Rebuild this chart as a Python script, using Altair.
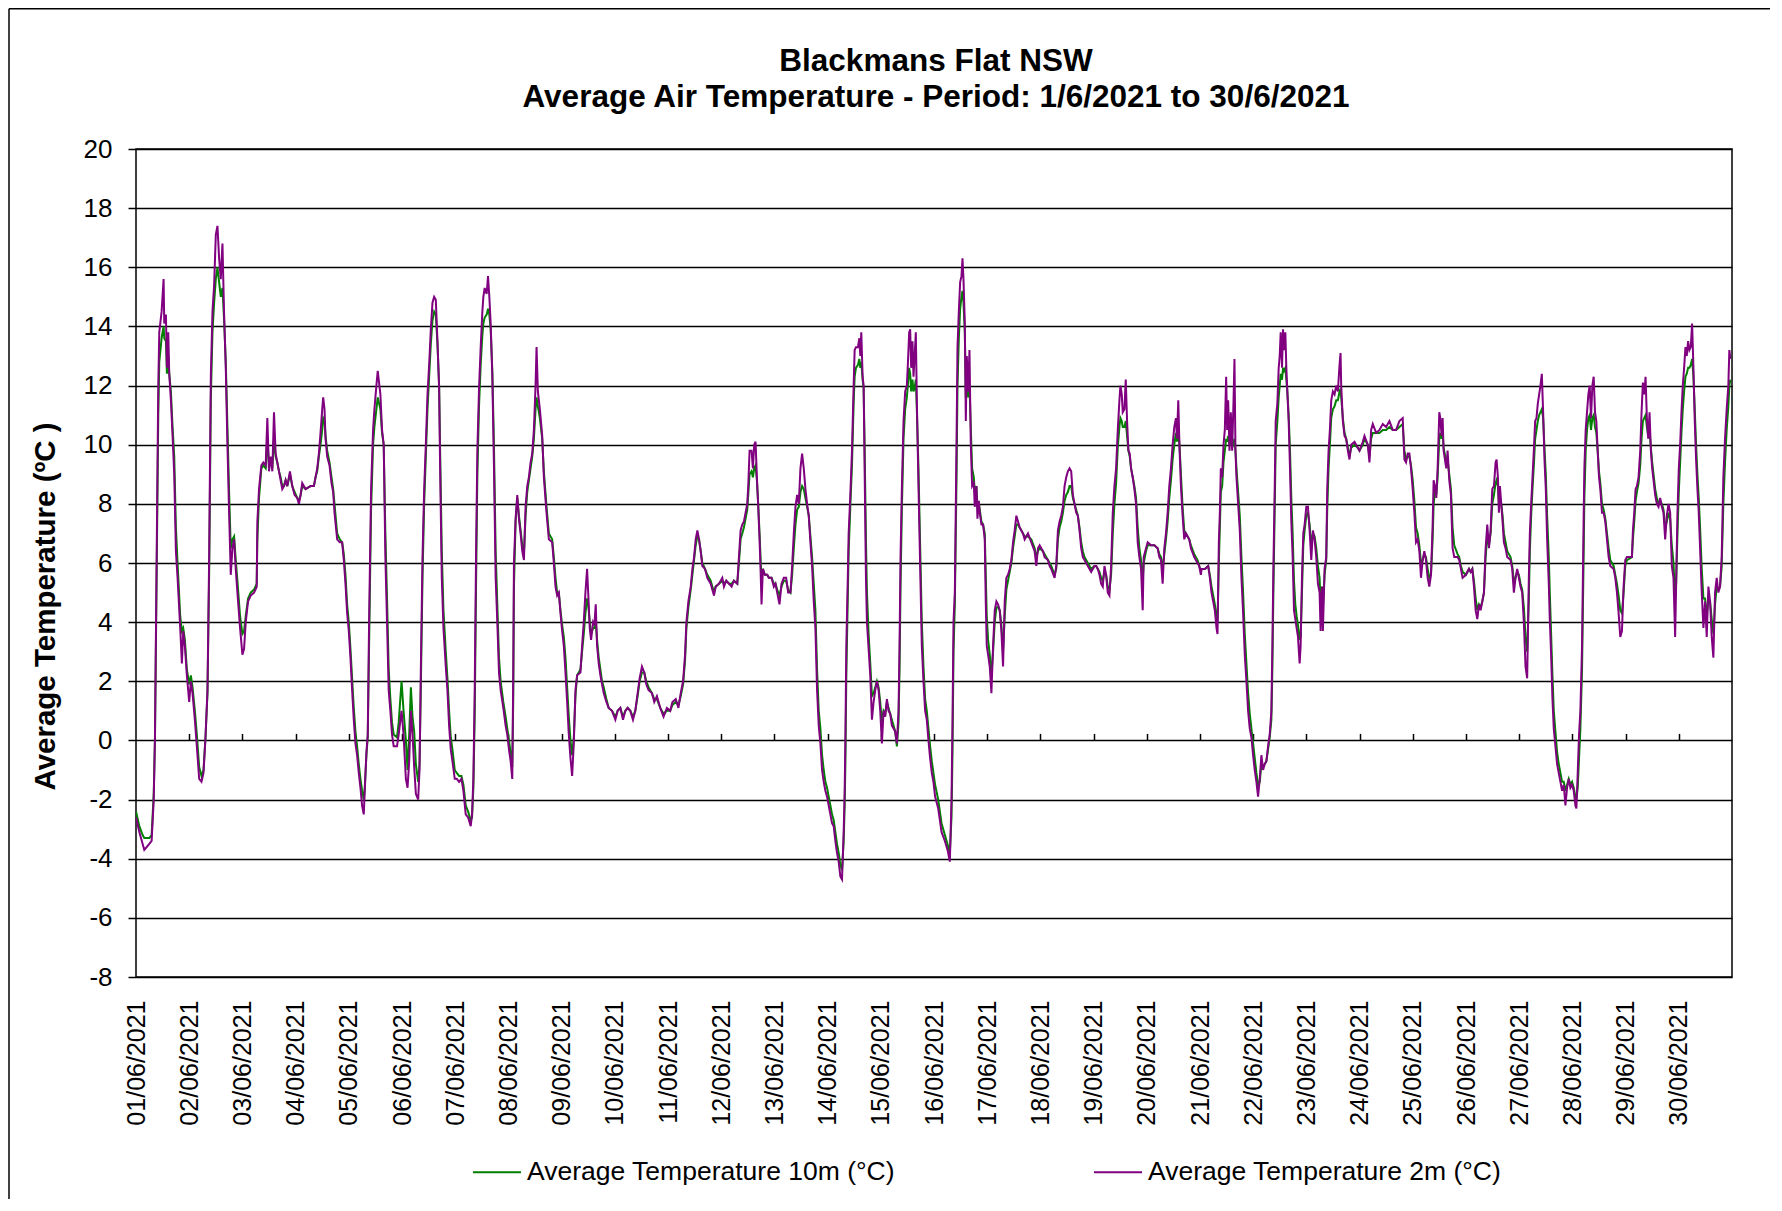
import altair as alt
import pandas as pd

FONT = "Arial, Liberation Sans, sans-serif"

TITLE_LINES = ["Blackmans Flat NSW",
               "Average Air  Temperature - Period: 1/6/2021 to 30/6/2021"]
Y_TITLE = "Average Temperature (ºC )"
SERIES = ["Average Temperature 10m (°C)", "Average Temperature 2m (°C)"]
COLORS = ["#008000", "#800080"]
Y_TICKS = [-8, -6, -4, -2, 0, 2, 4, 6, 8, 10, 12, 14, 16, 18, 20]
DAY_LABELS = ["01/06/2021", "02/06/2021", "03/06/2021", "04/06/2021", "05/06/2021",
              "06/06/2021", "07/06/2021", "08/06/2021", "09/06/2021", "10/06/2021",
              "11/06/2021", "12/06/2021", "13/06/2021", "14/06/2021", "15/06/2021",
              "16/06/2021", "17/06/2021", "18/06/2021", "19/06/2021", "20/06/2021",
              "21/06/2021", "22/06/2021", "23/06/2021", "24/06/2021", "25/06/2021",
              "26/06/2021", "27/06/2021", "28/06/2021", "29/06/2021", "30/06/2021"]

# rows: (hours since 01/06/2021 00:00, temperature 2 m, temperature 10 m)
JUN01_05 = [
    (0.0, -2.6, -2.4), (1.5, -3.1, -2.9), (3.0, -3.5, -3.2), (3.75, -3.7, -3.3), (6.0, -3.5, -3.3),
    (7.05, -3.4, -3.2), (8.0, -2.0, -1.8), (8.55, 0.1, 0.0), (10.05, 12.0, 11.0), (10.5, 13.8, 12.8),
    (11.55, 14.5, 13.6), (12.45, 15.6, 14.0), (12.75, 14.1, 13.6), (13.5, 14.4, 13.5), (13.95, 12.6, 12.4),
    (14.55, 13.8, 13.0), (15.0, 12.4, 12.4), (15.75, 11.5, 11.8), (16.5, 10.3, 10.6), (17.25, 9.0, 9.6),
    (18.0, 6.4, 7.2), (18.75, 5.5, 6.0), (19.95, 3.8, 4.2), (20.7, 2.6, 3.7), (21.3, 3.7, 3.8),
    (22.05, 3.2, 3.4), (22.95, 2.2, 2.4), (24.0, 1.3, 1.9), (24.75, 2.0, 2.2), (25.5, 1.6, 1.8),
    (26.55, 0.7, 1.0), (27.45, -0.2, 0.2), (28.5, -1.3, -0.9), (29.55, -1.4, -1.2), (30.45, -1.1, -1.0),
    (31.35, 0.1, 0.1), (32.25, 1.7, 1.6), (33.0, 6.2, 5.6), (33.75, 12.3, 11.5), (34.5, 14.5, 13.8),
    (35.25, 15.4, 14.8), (36.0, 17.1, 15.6), (36.75, 17.4, 16.0), (37.5, 16.3, 15.5), (38.25, 15.6, 15.0),
    (39.0, 16.8, 15.3), (39.75, 14.4, 14.2), (40.5, 12.6, 12.8), (41.25, 10.0, 10.6), (42.0, 7.7, 8.4),
    (42.75, 5.6, 6.5), (43.5, 6.5, 6.8), (44.25, 6.8, 6.9), (45.0, 5.8, 6.1), (45.75, 5.0, 5.4),
    (46.95, 3.8, 4.2), (48.0, 2.9, 3.6), (48.75, 3.1, 3.7), (49.5, 4.0, 4.2), (50.55, 4.7, 4.8),
    (51.75, 4.9, 5.0), (53.25, 5.0, 5.1), (54.45, 5.2, 5.3), (54.75, 7.4, 6.8), (55.5, 8.5, 8.2),
    (56.55, 9.3, 9.2), (57.45, 9.4, 9.3), (58.5, 9.3, 9.2), (59.25, 10.9, 10.2), (60.0, 9.1, 9.3),
    (60.75, 9.6, 9.5), (61.5, 9.1, 9.2), (62.25, 11.1, 10.2), (63.0, 9.7, 9.6), (63.75, 9.4, 9.4),
    (64.5, 9.1, 9.1), (65.25, 8.8, 8.9), (66.0, 8.5, 8.6), (66.75, 8.6, 8.6), (67.5, 8.8, 8.8),
    (68.25, 8.6, 8.6), (69.45, 9.1, 9.0), (70.5, 8.6, 8.6), (71.55, 8.3, 8.4), (72.75, 8.2, 8.2),
    (73.5, 8.0, 8.1), (74.25, 8.3, 8.3), (75.0, 8.7, 8.6), (76.5, 8.5, 8.5), (78.75, 8.6, 8.6),
    (80.25, 8.6, 8.6), (81.0, 8.9, 8.9), (81.75, 9.2, 9.1), (82.5, 9.7, 9.6), (83.25, 10.4, 10.0),
    (84.0, 11.2, 10.5), (84.45, 11.6, 10.9), (85.05, 11.2, 10.8), (85.5, 10.2, 10.3), (86.25, 9.6, 9.8),
    (87.3, 9.3, 9.4), (88.2, 8.7, 8.9), (88.95, 8.4, 8.5), (89.55, 7.7, 8.0), (90.75, 6.8, 7.0),
    (91.95, 6.7, 6.8), (93.0, 6.7, 6.7), (93.75, 6.1, 6.3), (94.5, 5.3, 5.6), (95.25, 4.3, 4.6),
    (96.0, 3.7, 4.0), (96.75, 2.8, 3.1), (97.5, 1.7, 2.1), (98.25, 0.7, 1.1), (99.0, -0.1, 0.3),
    (99.75, -0.5, -0.2), (100.5, -1.1, -0.8), (101.25, -1.6, -1.3), (102.0, -2.2, -1.7), (102.75, -2.5, -2.0),
    (103.2, -1.7, -1.6), (103.95, -0.4, -0.5), (104.55, 0.2, 0.1), (105.15, 4.0, 3.2), (106.05, 8.5, 7.8),
    (106.95, 10.5, 10.0), (107.55, 11.2, 10.6), (108.45, 12.0, 11.2), (109.05, 12.5, 11.6), (109.65, 12.1, 11.4),
    (110.25, 11.7, 11.2), (111.0, 10.5, 10.4), (111.75, 10.0, 10.0), (112.5, 6.2, 7.0), (113.25, 4.0, 4.8),
    (114.0, 1.7, 2.4), (114.75, 1.0, 1.4), (115.5, 0.2, 0.6), (116.25, -0.2, 0.2), (117.75, -0.2, 0.1),
    (118.5, 0.2, 0.6),
]

JUN06_10 = [
    (119.8, 1.0, 2.0), (120.7, 0.2, 1.0), (121.75, -1.3, 0.0), (122.5, -1.6, -1.0), (123.25, -0.7, 0.2),
    (124.0, 1.0, 1.8), (124.75, 0.2, 0.8), (125.5, -0.9, 0.3), (126.25, -1.8, -0.8), (127.3, -2.0, -1.4),
    (127.9, -1.0, -0.8), (128.5, 2.4, 1.8), (129.25, 6.2, 5.5), (130.0, 8.5, 8.0), (130.75, 10.0, 9.6),
    (131.5, 11.7, 11.2), (132.25, 12.7, 12.3), (133.0, 13.9, 13.4), (133.75, 14.8, 14.2), (134.5, 15.0, 14.5),
    (135.25, 14.9, 14.4), (136.0, 13.5, 13.4), (136.75, 11.9, 12.0), (137.2, 9.2, 9.8), (137.95, 5.5, 6.4),
    (138.7, 3.8, 4.4), (139.75, 2.5, 3.0), (140.5, 1.7, 2.1), (141.25, 0.5, 1.0), (142.0, -0.3, 0.1),
    (142.75, -0.7, -0.3), (143.8, -1.3, -1.0), (144.7, -1.3, -1.1), (145.75, -1.4, -1.2), (146.8, -1.3, -1.2),
    (147.7, -1.7, -1.5), (148.75, -2.5, -2.2), (149.8, -2.6, -2.4), (151.0, -2.9, -2.7), (151.6, -2.5, -2.6),
    (152.2, -1.3, -1.6), (152.8, 1.7, 0.8), (153.4, 6.2, 5.2), (154.0, 9.8, 9.0), (154.75, 11.9, 11.3),
    (155.5, 13.3, 12.7), (156.25, 14.5, 13.7), (156.7, 15.0, 14.1), (157.3, 15.3, 14.3), (158.2, 15.1, 14.4),
    (158.8, 15.7, 14.6), (159.4, 15.0, 14.4), (160.0, 14.1, 13.9), (160.75, 12.3, 12.5), (161.5, 9.2, 9.9),
    (162.25, 5.5, 6.4), (163.0, 4.0, 4.6), (163.75, 2.3, 2.8), (164.5, 1.7, 2.0), (165.7, 1.1, 1.3),
    (166.75, 0.5, 0.8), (167.5, 0.2, 0.4), (168.25, -0.3, 0.0), (169.0, -0.7, -0.4), (169.75, -1.3, -0.9),
    (170.2, 2.4, 1.5), (170.5, 6.0, 5.2), (171.25, 7.5, 7.4), (172.0, 8.3, 8.2), (172.75, 7.5, 7.6),
    (173.5, 7.0, 7.1), (174.25, 6.4, 6.6), (175.0, 6.1, 6.3), (175.75, 7.9, 7.6), (176.5, 8.6, 8.4),
    (177.25, 8.9, 8.8), (178.0, 9.4, 9.2), (178.75, 9.7, 9.6), (179.5, 10.5, 10.2), (180.25, 12.0, 11.2),
    (180.7, 13.3, 11.6), (181.3, 11.8, 11.3), (182.2, 11.2, 10.9), (183.25, 10.3, 10.2), (184.0, 8.9, 9.1),
    (185.2, 7.7, 7.9), (186.25, 6.8, 7.0), (187.75, 6.7, 6.8), (188.5, 6.0, 6.2), (189.25, 5.2, 5.5),
    (190.0, 4.9, 5.0), (190.75, 5.0, 5.0), (191.5, 4.3, 4.4), (192.25, 3.7, 3.9), (193.0, 3.2, 3.5),
    (193.75, 2.3, 2.8), (194.5, 1.3, 1.8), (195.25, 0.2, 0.8), (196.0, -0.6, 0.0), (196.75, -1.2, -0.5),
    (197.5, -0.1, 0.1), (198.25, 1.7, 1.5), (199.0, 2.2, 2.2), (200.5, 2.3, 2.4), (201.25, 3.2, 3.0),
    (202.0, 4.0, 3.6), (202.75, 5.0, 4.3), (203.5, 5.8, 4.8), (204.0, 5.0, 4.6), (204.7, 3.8, 4.0),
    (205.3, 3.4, 3.6), (206.2, 4.0, 3.8), (206.8, 3.9, 3.8), (207.4, 4.6, 4.0), (208.0, 3.2, 3.4),
    (208.75, 2.6, 2.8), (209.5, 2.2, 2.4), (210.25, 1.9, 2.0), (211.0, 1.6, 1.8), (212.2, 1.3, 1.4),
    (213.25, 1.1, 1.1), (214.75, 1.0, 1.0), (216.25, 0.7, 0.8), (217.3, 1.0, 1.0), (218.5, 1.1, 1.1),
    (219.7, 0.7, 0.8), (220.75, 1.0, 1.0), (221.8, 1.1, 1.1), (223.0, 1.0, 1.0), (224.2, 0.7, 0.8),
    (225.25, 1.0, 1.0), (226.3, 1.6, 1.5), (227.2, 2.1, 2.0), (228.25, 2.5, 2.3), (229.3, 2.3, 2.3),
    (230.2, 1.9, 2.0), (231.25, 1.7, 1.8), (232.75, 1.6, 1.6), (233.8, 1.3, 1.4), (235.0, 1.5, 1.4),
    (236.5, 1.1, 1.1), (238.0, 0.8, 0.9), (239.5, 1.1, 1.0), (241.0, 1.0, 1.0),
]

JUN11_15 = [
    (242.0, 1.3, 1.2), (243.5, 1.4, 1.3), (244.7, 1.1, 1.2), (245.75, 1.6, 1.5), (246.8, 2.0, 1.9),
    (247.7, 2.9, 2.7), (248.3, 4.0, 3.8), (249.2, 4.7, 4.5), (250.25, 5.2, 5.1), (251.0, 5.8, 5.6),
    (251.75, 6.2, 6.1), (252.5, 6.8, 6.6), (253.25, 7.1, 6.9), (254.0, 6.8, 6.8), (254.75, 6.4, 6.4),
    (255.5, 5.9, 6.0), (256.7, 5.8, 5.8), (257.75, 5.5, 5.6), (259.25, 5.3, 5.4), (260.75, 4.9, 5.0),
    (261.5, 5.2, 5.2), (263.0, 5.3, 5.3), (264.5, 5.5, 5.4), (265.25, 5.2, 5.3), (266.3, 5.4, 5.4),
    (267.5, 5.3, 5.3), (268.7, 5.2, 5.3), (269.75, 5.4, 5.4), (271.25, 5.3, 5.3), (272.0, 6.2, 6.0),
    (272.75, 7.1, 6.8), (273.5, 7.3, 7.0), (274.25, 7.4, 7.2), (275.0, 7.7, 7.5), (275.75, 8.0, 7.8),
    (276.2, 8.6, 8.3), (276.8, 9.8, 9.0), (277.7, 9.8, 9.1), (278.3, 9.2, 8.9), (278.9, 10.0, 9.2),
    (279.5, 10.1, 9.3), (280.1, 8.9, 8.8), (280.7, 7.9, 8.0), (281.3, 6.8, 7.0), (281.75, 5.8, 6.2),
    (282.2, 4.6, 5.4), (282.8, 5.8, 5.8), (283.7, 5.6, 5.6), (284.75, 5.6, 5.6), (285.5, 5.5, 5.5),
    (286.7, 5.5, 5.5), (287.75, 5.2, 5.3), (288.5, 5.3, 5.3), (289.25, 5.0, 5.1), (290.3, 4.6, 4.9),
    (291.2, 5.3, 5.2), (292.25, 5.5, 5.4), (293.3, 5.5, 5.4), (294.2, 5.0, 5.1), (295.25, 5.0, 5.0),
    (296.0, 5.9, 5.6), (296.75, 7.0, 6.5), (297.5, 7.9, 7.3), (298.25, 8.3, 7.8), (299.0, 8.0, 7.9),
    (299.75, 9.2, 8.4), (300.5, 9.7, 8.6), (301.25, 9.2, 8.5), (302.0, 8.5, 8.2), (302.75, 8.0, 7.9),
    (303.5, 7.6, 7.6), (304.25, 6.7, 6.9), (305.0, 5.9, 6.2), (305.75, 4.7, 5.3), (306.5, 3.8, 4.4),
    (307.25, 1.7, 2.4), (308.0, 0.5, 1.0), (308.75, -0.1, 0.4), (309.5, -1.0, -0.5), (310.25, -1.4, -1.0),
    (311.0, -1.7, -1.4), (311.75, -1.9, -1.6), (312.5, -2.2, -1.9), (313.25, -2.5, -2.2), (314.0, -2.8, -2.5),
    (314.75, -2.9, -2.7), (315.5, -3.4, -3.1), (316.25, -3.8, -3.5), (317.0, -4.1, -3.8), (317.75, -4.6, -4.2),
    (318.5, -4.7, -4.4), (319.25, -3.1, -3.4), (319.7, -1.7, -2.2), (320.0, -0.1, -0.9), (320.45, 3.2, 2.2),
    (321.05, 5.3, 4.6), (321.5, 7.0, 6.4), (322.25, 8.3, 7.9), (323.0, 9.8, 9.3), (323.75, 12.0, 11.4),
    (324.2, 13.2, 12.3), (324.8, 13.3, 12.6), (325.7, 13.3, 12.7), (326.3, 13.6, 12.9), (326.75, 13.0, 12.6),
    (327.2, 13.8, 12.8), (327.8, 12.3, 12.2), (328.25, 12.0, 11.9), (328.7, 9.2, 10.0), (329.3, 5.5, 6.8),
    (329.75, 4.0, 5.0), (330.5, 3.1, 3.6), (331.25, 2.2, 2.6), (332.0, 0.7, 1.5), (332.75, 1.3, 1.6),
    (333.5, 1.7, 1.8), (334.25, 2.0, 2.0), (335.0, 1.7, 1.8), (335.75, 1.0, 1.3), (336.5, -0.1, 0.6),
    (337.25, 1.0, 1.0), (338.0, 0.8, 0.9), (338.75, 1.4, 1.3), (339.5, 1.0, 1.1), (340.25, 0.9, 0.9),
    (341.0, 0.5, 0.7), (341.75, 0.4, 0.5), (342.5, 0.3, 0.3), (343.25, -0.1, -0.2), (344.0, 1.0, 0.6),
    (344.45, 3.2, 2.4), (344.9, 6.2, 5.2), (345.5, 8.5, 7.8), (346.25, 10.8, 10.2), (347.0, 11.8, 11.2),
    (347.75, 12.0, 11.6), (348.2, 12.7, 12.0), (348.8, 13.8, 12.6), (349.25, 13.9, 12.4), (349.7, 12.6, 11.8),
    (350.3, 13.5, 12.2), (350.75, 12.3, 11.8), (351.2, 12.9, 11.9), (351.8, 13.8, 12.2), (352.25, 11.5, 11.2),
    (353.0, 8.6, 9.2), (353.75, 5.9, 6.6), (354.5, 3.2, 4.0), (355.25, 2.0, 2.5), (356.0, 1.0, 1.4),
    (356.75, 0.7, 1.0), (357.5, 0.0, 0.4), (358.25, -0.6, -0.2), (359.0, -1.1, -0.7), (359.75, -1.4, -1.1),
    (360.5, -1.9, -1.5),
]

JUN16_20 = [
    (361.9, -2.3, -2.0), (363.4, -3.1, -2.8), (364.9, -3.4, -3.2), (366.1, -3.7, -3.5), (367.15, -4.1, -3.8),
    (367.9, -2.0, -2.6), (368.35, 0.7, -0.4), (368.8, 4.0, 3.0), (369.4, 5.0, 4.6), (370.15, 10.0, 8.8),
    (370.6, 13.3, 12.0), (371.2, 14.5, 13.6), (371.8, 15.5, 14.6), (372.4, 15.7, 15.0), (372.85, 16.3, 15.2),
    (373.3, 15.6, 14.8), (373.9, 14.1, 13.8), (374.35, 10.8, 11.6), (374.8, 13.0, 12.2), (375.4, 11.8, 11.6),
    (376.0, 13.2, 12.0), (376.6, 10.0, 10.6), (377.2, 8.6, 9.2), (377.95, 8.7, 8.9), (378.4, 7.9, 8.4),
    (379.15, 8.6, 8.6), (379.6, 7.5, 7.9), (380.2, 8.1, 8.0), (380.65, 7.7, 7.8), (381.4, 7.3, 7.4),
    (382.15, 7.3, 7.3), (382.9, 6.8, 7.0), (383.35, 4.7, 5.6), (383.8, 3.2, 4.2), (384.4, 2.9, 3.4),
    (385.15, 2.5, 2.9), (385.9, 1.6, 2.2), (386.65, 3.2, 3.0), (387.4, 4.4, 4.0), (388.15, 4.7, 4.5),
    (388.9, 4.6, 4.5), (389.65, 4.4, 4.4), (390.4, 3.7, 3.9), (391.15, 2.5, 3.0), (391.9, 4.7, 4.2),
    (392.65, 5.5, 5.1), (393.4, 5.6, 5.4), (394.15, 5.8, 5.7), (394.9, 6.1, 6.0), (395.65, 6.7, 6.5),
    (396.4, 7.1, 6.9), (397.15, 7.6, 7.3), (397.9, 7.4, 7.3), (398.65, 7.2, 7.2), (399.4, 7.1, 7.1),
    (400.15, 7.0, 7.0), (400.9, 6.8, 6.9), (402.4, 7.0, 6.9), (403.9, 6.7, 6.8), (405.4, 6.4, 6.5),
    (406.15, 5.9, 6.2), (406.9, 6.5, 6.4), (407.65, 6.6, 6.5), (409.15, 6.4, 6.4), (409.9, 6.2, 6.3),
    (411.4, 6.1, 6.1), (412.15, 5.9, 6.0), (412.9, 5.8, 5.9), (414.4, 5.5, 5.6), (415.15, 5.9, 5.8),
    (415.9, 7.1, 6.8), (416.65, 7.4, 7.2), (417.4, 7.6, 7.4), (418.15, 7.9, 7.7), (418.9, 8.6, 8.1),
    (419.65, 8.9, 8.3), (420.4, 9.1, 8.4), (421.15, 9.2, 8.6), (421.9, 9.1, 8.6), (422.65, 8.3, 8.2),
    (423.4, 8.0, 8.0), (424.15, 7.7, 7.8), (424.9, 7.6, 7.6), (425.65, 7.1, 7.2), (426.4, 6.5, 6.7),
    (427.15, 6.2, 6.4), (427.9, 6.1, 6.2), (429.4, 5.9, 6.0), (430.9, 5.7, 5.8), (432.4, 5.9, 5.9),
    (433.15, 5.9, 5.9), (433.9, 5.8, 5.8), (434.65, 5.6, 5.7), (435.4, 5.3, 5.5), (436.15, 5.2, 5.4),
    (436.9, 5.9, 5.7), (437.65, 5.6, 5.6), (438.4, 5.0, 5.2), (439.15, 4.9, 5.1), (439.9, 5.9, 5.6),
    (440.65, 7.7, 7.0), (441.4, 8.6, 8.0), (442.15, 9.2, 8.7), (442.9, 10.5, 9.9), (443.65, 11.5, 10.6),
    (444.1, 12.0, 10.9), (444.7, 11.7, 10.8), (445.15, 11.1, 10.6), (445.9, 11.2, 10.6), (446.5, 12.2, 10.8),
    (447.1, 10.8, 10.3), (447.7, 9.8, 9.8), (448.3, 9.7, 9.6), (448.9, 9.2, 9.2), (449.65, 8.9, 8.9),
    (450.4, 8.5, 8.6), (451.15, 8.0, 8.2), (451.9, 6.7, 7.2), (452.65, 6.2, 6.5), (453.4, 5.8, 6.1),
    (454.15, 4.4, 5.4), (454.6, 6.2, 6.0), (455.65, 6.5, 6.4), (456.4, 6.7, 6.6), (457.9, 6.6, 6.6),
    (459.4, 6.6, 6.6), (460.9, 6.5, 6.5), (461.65, 6.2, 6.3), (462.4, 6.1, 6.2), (463.15, 5.3, 5.8),
    (463.9, 6.5, 6.3), (464.65, 7.0, 6.8), (465.4, 7.7, 7.4), (466.15, 8.6, 8.2), (466.9, 9.2, 8.8),
    (467.65, 10.0, 9.5), (468.4, 10.6, 10.0), (469.15, 10.9, 10.4), (469.6, 10.2, 10.1), (470.2, 11.5, 10.5),
    (470.8, 9.8, 9.9), (471.4, 8.6, 9.0), (472.15, 7.6, 7.9), (472.9, 6.8, 7.1), (473.65, 7.0, 7.0),
    (475.15, 6.8, 6.8), (475.9, 6.5, 6.6), (477.4, 6.2, 6.3), (478.9, 6.0, 6.1), (479.65, 5.9, 5.9),
    (480.4, 5.6, 5.7),
]

JUN21_25 = [
    (480.7, 5.8, 5.8), (482.2, 5.8, 5.8), (483.7, 5.9, 5.9), (484.45, 5.5, 5.6), (485.2, 5.0, 5.2),
    (485.95, 4.7, 4.9), (486.7, 4.4, 4.6), (487.45, 3.8, 4.2), (487.9, 3.6, 4.0), (488.5, 6.7, 6.0),
    (488.95, 7.7, 7.2), (489.4, 9.2, 8.4), (490.0, 8.9, 8.6), (490.6, 10.0, 9.4), (491.2, 10.5, 9.8),
    (491.8, 12.3, 10.2), (492.25, 10.5, 10.1), (492.7, 11.5, 10.3), (493.3, 9.8, 10.0), (493.9, 11.1, 10.2),
    (494.5, 9.8, 9.9), (495.1, 11.4, 10.1), (495.55, 12.9, 10.2), (496.0, 9.8, 9.8), (496.45, 8.9, 9.2),
    (497.2, 8.0, 8.4), (497.95, 7.1, 7.6), (498.7, 5.5, 6.2), (499.45, 4.3, 5.0), (500.2, 2.9, 3.6),
    (500.95, 2.0, 2.6), (501.7, 1.0, 1.6), (502.45, 0.4, 0.9), (503.2, 0.1, 0.4), (503.95, -0.5, -0.1),
    (504.7, -1.0, -0.6), (505.45, -1.4, -1.1), (506.2, -1.9, -1.5), (506.95, -1.3, -1.4), (507.7, -0.5, -0.8),
    (508.45, -1.0, -0.9), (509.2, -0.8, -0.8), (509.95, -0.7, -0.7), (510.7, -0.2, -0.3), (511.45, 0.2, 0.1),
    (512.2, 1.0, 0.7), (512.65, 3.2, 2.4), (513.1, 5.8, 5.0), (513.7, 8.5, 7.8), (514.15, 10.8, 10.0),
    (514.9, 11.4, 10.8), (515.5, 12.6, 11.6), (515.95, 13.0, 12.0), (516.4, 13.8, 12.4), (517.0, 12.6, 12.2),
    (517.45, 13.9, 12.6), (517.9, 13.2, 12.5), (518.5, 13.8, 12.6), (518.95, 12.6, 12.2), (519.4, 11.8, 11.8),
    (520.0, 10.8, 11.0), (520.6, 9.2, 9.8), (521.2, 7.4, 8.2), (521.8, 6.2, 7.0), (522.4, 4.4, 5.4),
    (523.0, 4.1, 4.6), (523.6, 3.8, 4.2), (524.2, 3.5, 3.9), (524.95, 2.6, 3.4), (525.4, 3.2, 3.5),
    (526.0, 5.5, 5.0), (526.6, 7.0, 6.6), (527.2, 7.3, 7.1), (527.95, 7.9, 7.6), (528.7, 7.9, 7.7),
    (529.45, 7.1, 7.3), (530.2, 6.1, 6.6), (530.95, 7.1, 7.0), (531.7, 6.8, 6.9), (532.45, 6.2, 6.5),
    (533.2, 5.3, 5.9), (533.95, 5.0, 5.5), (534.4, 3.7, 4.6), (535.0, 5.2, 5.2), (535.45, 3.7, 4.5),
    (536.2, 5.8, 5.6), (536.95, 6.2, 6.1), (537.4, 8.5, 7.8), (538.0, 9.8, 9.2), (538.6, 10.5, 10.0),
    (539.2, 11.5, 10.9), (539.95, 11.8, 11.2), (540.7, 11.7, 11.3), (541.45, 12.0, 11.5), (542.2, 11.8, 11.5),
    (542.95, 12.7, 11.8), (543.4, 13.1, 11.9), (543.7, 12.0, 11.6), (544.45, 10.8, 10.9), (545.2, 10.3, 10.4),
    (545.95, 10.2, 10.2), (546.7, 9.8, 9.9), (547.45, 9.5, 9.6), (548.2, 10.0, 9.9), (549.7, 10.1, 10.0),
    (551.2, 9.9, 9.9), (551.95, 9.8, 9.8), (553.45, 10.1, 10.0), (554.2, 10.3, 10.2), (555.7, 10.0, 10.0),
    (556.45, 9.4, 9.6), (557.2, 10.5, 10.2), (557.95, 10.7, 10.4), (559.45, 10.4, 10.4), (560.95, 10.5, 10.4),
    (562.45, 10.7, 10.5), (563.95, 10.6, 10.5), (565.45, 10.8, 10.6), (566.95, 10.5, 10.5), (568.45, 10.5, 10.5),
    (569.95, 10.8, 10.6), (571.45, 10.9, 10.7), (572.2, 9.5, 9.8), (572.95, 9.4, 9.5), (573.7, 9.7, 9.6),
    (574.45, 9.7, 9.6), (575.2, 9.2, 9.3), (575.95, 8.5, 8.8), (576.7, 7.7, 8.1), (577.45, 6.7, 7.2),
    (578.2, 6.8, 7.0), (578.95, 6.4, 6.6), (579.7, 5.5, 6.0), (580.45, 6.1, 6.1), (581.2, 6.4, 6.3),
    (581.95, 6.1, 6.2), (582.7, 5.5, 5.8), (583.45, 5.2, 5.5), (584.2, 5.6, 5.6), (584.95, 7.3, 6.8),
    (585.4, 8.8, 8.0), (586.0, 8.6, 8.4), (586.6, 8.2, 8.3), (587.2, 9.2, 8.9), (587.95, 11.1, 10.2),
    (588.4, 10.9, 10.4), (589.0, 10.3, 10.2), (589.45, 10.9, 10.4), (589.9, 9.8, 9.9), (591.1, 9.2, 9.4),
    (591.7, 9.8, 9.5), (592.45, 8.8, 9.0), (593.2, 8.3, 8.5), (593.95, 6.5, 7.2), (594.7, 6.2, 6.6),
    (596.2, 6.2, 6.3), (596.95, 6.1, 6.2), (597.7, 5.8, 5.9), (598.45, 5.5, 5.7), (599.95, 5.6, 5.6),
]

JUN26_30 = [
    (601.35, 5.8, 5.8), (602.1, 5.7, 5.7), (602.85, 5.8, 5.8), (603.6, 5.2, 5.4), (604.35, 4.4, 4.8),
    (605.1, 4.1, 4.4), (605.85, 4.6, 4.6), (606.6, 4.4, 4.5), (607.35, 4.7, 4.7), (608.1, 5.0, 5.0),
    (608.85, 6.5, 6.2), (609.6, 7.3, 6.9), (610.35, 6.5, 6.6), (611.1, 7.1, 7.0), (611.85, 8.5, 8.0),
    (612.6, 8.6, 8.3), (613.35, 9.4, 8.7), (613.8, 9.5, 8.8), (614.4, 8.9, 8.6), (614.85, 7.7, 8.0),
    (615.3, 8.6, 8.2), (615.9, 8.0, 8.0), (616.5, 7.4, 7.6), (617.1, 6.7, 7.0), (617.85, 6.5, 6.7),
    (618.6, 6.2, 6.4), (620.1, 6.1, 6.2), (620.85, 5.8, 5.9), (621.6, 5.0, 5.4), (622.35, 5.5, 5.5),
    (623.1, 5.8, 5.7), (623.85, 5.5, 5.6), (624.6, 5.2, 5.3), (625.35, 5.0, 5.1), (626.1, 4.0, 4.5),
    (626.85, 2.5, 3.5), (627.6, 2.1, 3.0), (628.35, 5.5, 4.8), (628.8, 7.0, 6.4), (629.4, 8.0, 7.6),
    (630.0, 8.9, 8.5), (630.6, 9.8, 9.3), (631.2, 10.8, 10.2), (631.8, 10.9, 10.5), (632.4, 11.4, 10.8),
    (633.0, 11.7, 11.0), (633.6, 12.0, 11.1), (634.2, 12.4, 11.2), (634.8, 11.1, 10.9), (635.4, 9.5, 9.9),
    (636.0, 8.5, 9.0), (636.6, 6.8, 7.6), (637.35, 5.3, 6.2), (637.8, 4.1, 5.0), (638.4, 2.9, 3.6),
    (639.0, 1.4, 2.2), (639.6, 0.4, 1.0), (640.35, -0.2, 0.3), (641.1, -0.8, -0.4), (641.85, -1.1, -0.8),
    (642.6, -1.4, -1.1), (643.35, -1.7, -1.4), (644.1, -1.5, -1.4), (644.85, -2.2, -1.7), (645.6, -1.6, -1.5),
    (646.35, -1.3, -1.3), (647.1, -1.6, -1.5), (647.85, -1.5, -1.4), (648.6, -1.7, -1.6), (649.35, -2.2, -1.9),
    (649.8, -2.3, -2.0), (650.4, -1.1, -1.6), (651.0, 0.2, -0.6), (651.6, 1.0, 0.4), (652.35, 3.2, 2.4),
    (653.1, 7.7, 6.4), (653.4, 9.2, 8.2), (654.0, 10.5, 9.8), (654.6, 11.1, 10.5), (655.2, 11.7, 10.9),
    (655.8, 12.0, 11.0), (656.4, 10.9, 10.5), (657.0, 12.0, 10.9), (657.6, 12.3, 11.0), (658.2, 11.1, 10.6),
    (658.8, 10.8, 10.4), (659.4, 9.8, 9.8), (660.0, 8.9, 9.1), (660.6, 8.5, 8.7), (661.35, 7.7, 8.0),
    (662.1, 7.7, 7.8), (662.85, 7.4, 7.5), (663.6, 6.8, 7.0), (664.35, 6.2, 6.5), (665.1, 5.9, 6.1),
    (666.6, 5.8, 5.9), (667.35, 5.5, 5.6), (668.1, 5.0, 5.3), (668.85, 4.3, 4.9), (669.6, 3.5, 4.4),
    (670.35, 3.7, 4.3), (671.1, 5.2, 5.0), (671.85, 6.1, 5.9), (672.6, 6.2, 6.1), (674.85, 6.2, 6.2),
    (675.3, 7.1, 6.8), (675.9, 7.7, 7.4), (676.5, 8.5, 8.1), (677.1, 8.6, 8.4), (677.85, 8.9, 8.7),
    (678.6, 9.8, 9.3), (679.2, 11.1, 10.2), (679.8, 12.1, 10.8), (680.4, 11.7, 10.9), (681.0, 12.3, 11.0),
    (681.6, 10.9, 10.6), (682.2, 10.2, 10.3), (682.8, 11.1, 10.5), (683.4, 9.8, 9.9), (684.0, 9.2, 9.4),
    (684.6, 8.8, 9.0), (685.35, 8.3, 8.5), (686.1, 8.0, 8.2), (686.85, 7.9, 8.0), (687.6, 8.2, 8.1),
    (688.35, 7.9, 8.0), (689.1, 7.7, 7.8), (689.85, 6.8, 7.2), (690.6, 7.6, 7.4), (691.35, 8.0, 7.7),
    (692.1, 7.7, 7.5), (692.85, 5.9, 6.6), (693.6, 5.5, 6.0), (694.35, 3.5, 4.8), (694.8, 5.3, 5.3),
    (695.4, 7.7, 7.0), (696.0, 9.2, 8.4), (696.6, 10.0, 9.4), (697.2, 11.1, 10.4), (697.8, 12.0, 11.2),
    (698.4, 12.6, 11.8), (699.0, 13.3, 12.3), (699.6, 13.0, 12.4), (700.2, 13.5, 12.6), (700.8, 13.2, 12.6),
    (701.4, 13.3, 12.7), (702.0, 14.1, 12.9), (702.6, 12.6, 12.3), (703.2, 10.8, 11.2), (703.8, 9.5, 10.0),
    (704.4, 8.5, 9.0), (705.0, 7.7, 8.2), (705.6, 6.5, 7.2), (706.35, 5.0, 5.8), (707.1, 3.8, 4.8),
    (707.85, 4.7, 4.8), (708.6, 3.5, 4.2), (709.35, 5.2, 4.8), (710.1, 4.7, 4.7), (710.85, 3.5, 4.1),
    (711.6, 2.8, 3.6), (712.35, 5.0, 4.6), (713.1, 5.5, 5.2), (713.85, 5.0, 5.1), (714.6, 5.2, 5.2),
    (715.35, 6.2, 5.9), (716.1, 8.9, 8.0), (716.85, 10.2, 9.4), (717.6, 11.2, 10.5), (718.35, 12.0, 11.3),
    (718.8, 13.2, 12.0), (719.25, 12.9, 12.2),
]

rows = []
for chunk in (JUN01_05, JUN06_10, JUN11_15, JUN16_20, JUN21_25, JUN26_30):
    for h, t2, t10 in chunk:
        rows.append({"hours": h, "series": SERIES[0], "temp": t10})
        rows.append({"hours": h, "series": SERIES[1], "temp": t2})
df = pd.DataFrame(rows)

W, H = 1596, 828
PAD = {"left": 128, "top": 141, "right": 38, "bottom": 222}
DAY_HOURS = [24 * i for i in range(len(DAY_LABELS))]

x_scale = alt.Scale(domain=[0, 720], nice=False, zero=False)
y_scale = alt.Scale(domain=[-8, 20], nice=False, zero=False)
color_scale = alt.Scale(domain=SERIES, range=COLORS)

label_expr = "[" + ",".join("'" + s + "'" for s in DAY_LABELS) + "][round(datum.value / 24)]"

bottom_axis = alt.Axis(orient="bottom", values=DAY_HOURS, labelExpr=label_expr, labelAngle=270,
                       labelFontSize=25, labelFont=FONT, labelColor="black", labelPadding=23,
                       ticks=False, domain=False, grid=False, title=None, labelOverlap=False,
                       labelLimit=300)
top_axis = alt.Axis(orient="top", values=DAY_HOURS[1:], labels=False, ticks=True, tickSize=7,
                    tickColor="black", tickWidth=1.5, domain=False, grid=False, title=None,
                    offset=-H * 20 / 28)
y_axis = alt.Axis(values=Y_TICKS, labelExpr="'' + datum.value", grid=True, gridColor="black",
                  gridWidth=1.5, gridOpacity=1,
                  tickSize=8, tickColor="black", tickWidth=1.5, domain=False,
                  labelFontSize=26, labelFont=FONT, labelColor="black", labelPadding=16,
                  title=Y_TITLE, titleFont=FONT, titleFontSize=29.5, titleFontWeight="bold",
                  titleColor="black", titleAngle=270, titleX=-91, titleY=457,
                  titleAlign="center", titleBaseline="middle")
legend = alt.Legend(orient="none", legendX=336, legendY=998, direction="horizontal", title=None,
                    symbolType="stroke", symbolSize=2304, symbolStrokeWidth=2,
                    labelFontSize=26.5, labelFont=FONT, labelColor="black", labelLimit=600,
                    labelOffset=5, columnPadding=194)

green = alt.Chart(df).transform_filter(alt.datum.series == SERIES[0]).mark_line(
    strokeWidth=2, clip=True).encode(
    x=alt.X("hours:Q", scale=x_scale, axis=top_axis),
    y=alt.Y("temp:Q", scale=y_scale, axis=y_axis),
    color=alt.Color("series:N", scale=color_scale, legend=legend),
)
purple = alt.Chart(df).transform_filter(alt.datum.series == SERIES[1]).mark_line(
    strokeWidth=2, clip=True).encode(
    x=alt.X("hours:Q", scale=x_scale, axis=bottom_axis),
    y=alt.Y("temp:Q", scale=y_scale, axis=y_axis),
    color=alt.Color("series:N", scale=color_scale, legend=legend),
)

one = pd.DataFrame({"k": [0]})
title = alt.Chart(one).mark_text(text=TITLE_LINES, font=FONT, fontSize=31.5, fontWeight="bold",
                                 lineHeight=36, align="center", baseline="alphabetic",
                                 color="black").encode(x=alt.value(W / 2 + 2), y=alt.value(-78))
frame_left = alt.Chart(one).mark_rule(color="black", strokeWidth=1.5).encode(
    x=alt.value(-127), y=alt.value(-140.25), y2=alt.value(H + PAD["bottom"]))
frame_top = alt.Chart(one).mark_rule(color="black", strokeWidth=1.5).encode(
    x=alt.value(-127), x2=alt.value(W + PAD["right"]), y=alt.value(-140.25))

chart = alt.layer(green, purple, title, frame_left, frame_top).properties(
    width=W, height=H, padding=PAD, autosize=alt.AutoSizeParams(type="none"),
    background="white",
).configure_view(stroke="black", strokeWidth=1.5)

chart.save("out.html", embed_options={"renderer": "svg", "actions": False})
